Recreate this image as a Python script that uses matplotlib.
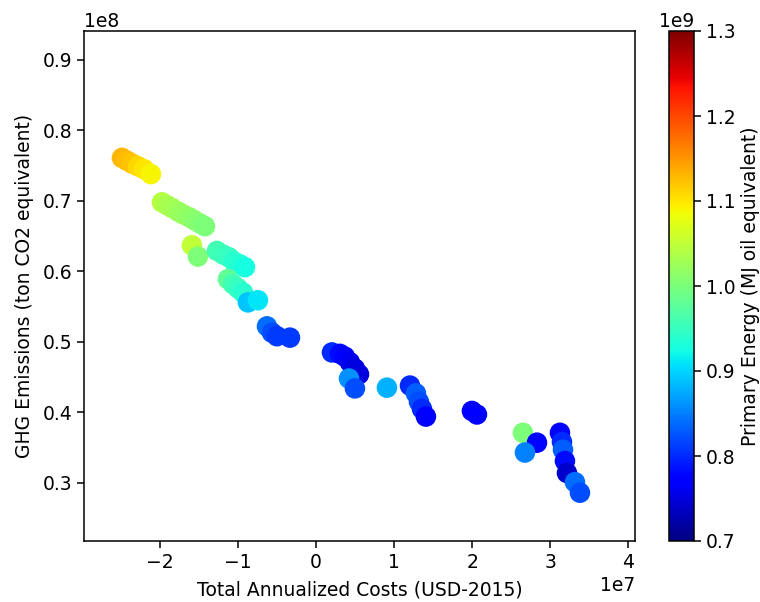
import matplotlib
matplotlib.use("Agg")
import matplotlib.pyplot as plt
from matplotlib.ticker import ScalarFormatter
import numpy as np

# Total annualized costs (USD-2015), units of 1e7
cost_e7 = [-2.484, -2.420, -2.356, -2.279, -2.202, -2.113,
           -1.972, -1.908, -1.844, -1.767, -1.703, -1.626, -1.562, -1.485, -1.421,
           -1.588, -1.511,
           -1.268, -1.191, -1.114, -1.050, -0.973, -0.909,
           -1.127, -1.063, -0.999, -0.935, -0.871, -0.743,
           -0.627, -0.563, -0.499, -0.333,
           0.205, 0.307, 0.371, 0.435, 0.499, 0.551, 0.423, 0.499,
           0.909,
           1.204, 1.280, 1.319, 1.357, 1.408,
           1.997, 2.061,
           2.650, 2.830, 2.676,
           3.124, 3.150, 3.163, 3.188, 3.214, 3.316, 3.380]

# GHG emissions (ton CO2 eq), units of 1e8
ghg_e8 = [0.761, 0.757, 0.753, 0.749, 0.745, 0.738,
          0.698, 0.694, 0.690, 0.685, 0.681, 0.677, 0.673, 0.668, 0.664,
          0.637, 0.621,
          0.629, 0.624, 0.620, 0.614, 0.610, 0.606,
          0.589, 0.582, 0.576, 0.570, 0.556, 0.559,
          0.522, 0.513, 0.508, 0.506,
          0.485, 0.483, 0.479, 0.471, 0.462, 0.454, 0.448, 0.434,
          0.435,
          0.438, 0.427, 0.415, 0.405, 0.394,
          0.402, 0.397,
          0.371, 0.357, 0.343,
          0.371, 0.358, 0.347, 0.331, 0.314, 0.301, 0.286]

# Primary energy (MJ oil eq), units of 1e9
energy_e9 = [1.13, 1.125, 1.12, 1.11, 1.10, 1.09,
             1.04, 1.035, 1.03, 1.025, 1.02, 1.015, 1.01, 1.005, 1.0,
             1.05, 1.0,
             0.96, 0.955, 0.95, 0.94, 0.935, 0.925,
             0.98, 0.96, 0.95, 0.94, 0.89, 0.91,
             0.84, 0.82, 0.81, 0.81,
             0.80, 0.78, 0.77, 0.76, 0.75, 0.75, 0.86, 0.82,
             0.88,
             0.80, 0.83, 0.82, 0.80, 0.77,
             0.77, 0.77,
             1.0, 0.77, 0.85,
             0.77, 0.80, 0.83, 0.78, 0.74, 0.84, 0.82]

x = np.array(cost_e7) * 1e7
y = np.array(ghg_e8) * 1e8
c = np.array(energy_e9) * 1e9


class FixedOrderFormatter(ScalarFormatter):
    def __init__(self, order):
        super().__init__(useMathText=False)
        self._fixed_order = order

    def _set_order_of_magnitude(self):
        self.orderOfMagnitude = self._fixed_order


FS = 13.5
fig = plt.figure(figsize=(7.6, 6.02), dpi=100)
ax = fig.add_axes([84/760, 61/602, 551/760, 510/602])
cax = fig.add_axes([669/760, 61/602, 25/760, 510/602])

sc = ax.scatter(x, y, c=c, cmap="jet", vmin=0.7e9, vmax=1.3e9, s=190)
ax.set_xlim(-2.97e7, 4.085e7)
ax.set_ylim(0.2175e8, 0.941e8)
ax.yaxis.set_major_formatter(FixedOrderFormatter(8))
ax.set_xlabel("Total Annualized Costs (USD-2015)", fontsize=FS, labelpad=6)
ax.set_ylabel("GHG Emissions (ton CO2 equivalent)", fontsize=FS, labelpad=6)
ax.tick_params(labelsize=FS, length=5, width=1.1)
for s in ax.spines.values():
    s.set_linewidth(1.1)
ax.xaxis.get_offset_text().set_fontsize(FS)
ax.yaxis.get_offset_text().set_fontsize(FS)

cb = fig.colorbar(sc, cax=cax)
cb.set_label("Primary Energy (MJ oil equivalent)", fontsize=FS)
cb.ax.tick_params(labelsize=FS, length=5, width=1.1)
cb.outline.set_linewidth(1.1)
cb.ax.yaxis.get_offset_text().set_fontsize(FS)

fig.savefig("out.png", dpi=100)
